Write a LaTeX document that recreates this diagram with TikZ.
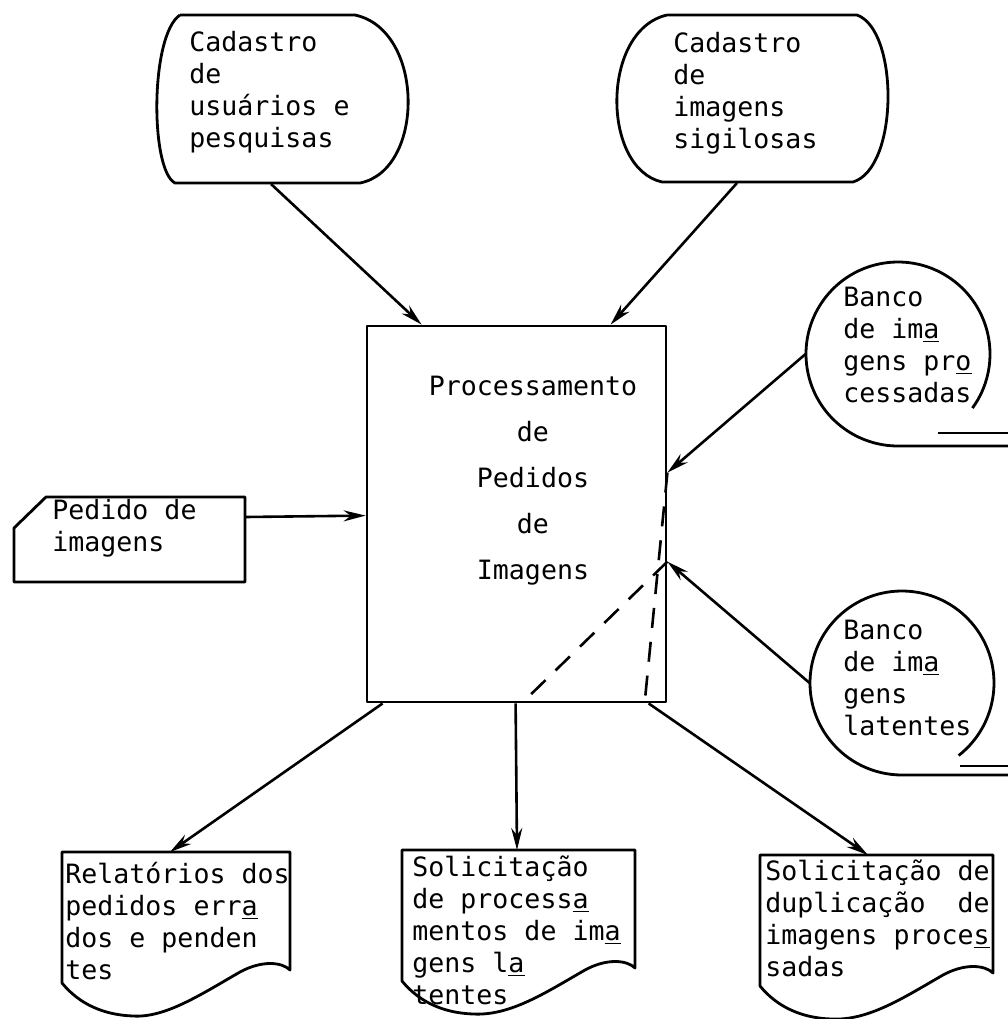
\documentclass[tikz,border=0pt]{standalone}
\usepackage{fontspec}
\setmonofont{DejaVu Sans Mono}
\usetikzlibrary{arrows.meta}
\newcommand{\hy}[1]{\underline{#1}}
\newcommand{\docshape}[2]{%
 \begin{scope}[shift={(#1)}]
 \draw[shp] (0,0) -- (#2,0) -- (#2,118) .. controls (#2-8,110) and (#2-28,108) .. (#2-50,120)
   .. controls (#2-90,143) and (#2-125,166) .. (71,164) .. controls (43,163) and (18,153) .. (0,131) -- cycle;
 \end{scope}}
\tikzset{
 txt/.style={font=\ttfamily\fontsize{13.3}{16}\selectfont,align=left,inner sep=0pt,anchor=west},
 shp/.style={line width=1.4pt,line join=round},
 flow/.style={line width=1.3pt,-{Stealth[length=11pt,width=5.5pt]}},
 hid/.style={line width=1.3pt,dash pattern=on 10pt off 7pt},
 disk/.style={circle,minimum size=92pt,inner sep=0pt}
}
\begin{document}
\begin{tikzpicture}[x=0.5pt,y=-0.5pt]
\useasboundingbox (0,0) rectangle (1008,1019);

 % terminais
 \draw[shp] (180,15) -- (355,15) .. controls (425,30) and (425,170) .. (360,183) -- (175,183) .. controls (150,170) and (150,35) .. (180,15);
 \node[txt] (cadu) at (189,92) {Cadastro\\de\\usuários e\\pesquisas};
 \coordinate (cadu-s) at (271,184);

 \draw[shp] (667,15) -- (857,15) .. controls (899,30) and (899,168) .. (853,182) -- (662,182) .. controls (601,168) and (601,30) .. (667,15);
 \node[txt] (cadi) at (673,93) {Cadastro\\de\\imagens\\sigilosas};
 \coordinate (cadi-s) at (737,183);

 % processamento
 \node[draw,shp,minimum width=149.5pt,minimum height=188pt] (proc) at (516.5,514) {};
 \node[txt,anchor=center,align=center,font=\ttfamily\fontsize{13.3}{23}\selectfont] (proctxt) at (533,481)
   {Processamento\\de\\Pedidos\\de\\Imagens};

 % pedido
 \draw[shp] (46,497) -- (245,497) -- (245,582) -- (14,582) -- (14,528) -- cycle;
 \node[txt] (ped) at (52,528) {Pedido de\\imagens};
 \coordinate (ped-e) at (245,517);

 % discos
 \node[disk] (bproc) at (898,354) {};
 \draw[shp] ([shift={(-36:46pt)}]bproc.center) arc[start angle=-36,end angle=270,radius=46pt] -- (1008,446);
 \draw[shp] (938,433) -- (1008,433);
 \node[txt] (bproctxt) at (843,345) {Banco\\de im\hy{a}\\gens pr\hy{o}\\cessadas};

 \node[disk] (blat) at (902,683) {};
 \draw[shp] ([shift={(-52:46pt)}]blat.center) arc[start angle=-52,end angle=270,radius=46pt] -- (1008,775);
 \draw[shp] (960,766) -- (1008,766);
 \node[txt] (blattxt) at (843,678) {Banco\\de im\hy{a}\\gens\\latentes};

 % documentos
 \docshape{62,852}{228}
 \node[txt] (rel) at (65,921) {Relatórios dos\\pedidos err\hy{a}\\dos e penden\\tes};
 \coordinate (rel-n) at (170,852);

 \docshape{402,850}{233}
 \node[txt] (solp) at (412,930) {Solicitação\\de process\hy{a}\\mentos de im\hy{a}\\gens l\hy{a}\\tentes};
 \coordinate (solp-n) at (517,850);

 \docshape{760,855}{233}
 \node[txt] (sold) at (765,918) {Solicitação de\\duplicação~~de\\imagens proce\hy{s}\\sadas};
 \coordinate (sold-n) at (868,855);

 % fluxos
 \draw[flow] (cadu-s) -- ([xshift=28pt]proc.north west);
 \draw[flow] (cadi-s) -- ([xshift=122.5pt]proc.north west);
 \draw[flow] (ped-e) -- ([yshift=-95.5pt]proc.north west);
 \draw[flow] (bproc.west) -- ([yshift=-74pt]proc.north east);
 \draw[flow] (blat.west) -- ([yshift=-118.5pt]proc.north east);
 \draw[flow] ([xshift=8.5pt]proc.south west) -- (rel-n);
 \draw[flow] ([xshift=75pt]proc.south west) -- (solp-n);
 \draw[flow] ([xshift=141.5pt]proc.south west) -- (sold-n);

 \draw[hid] ([yshift=-74pt]proc.north east) -- ([xshift=139.5pt]proc.south west);
 \draw[hid] ([yshift=-118.5pt]proc.north east) -- ([xshift=78pt]proc.south west);
\end{tikzpicture}
\end{document}
